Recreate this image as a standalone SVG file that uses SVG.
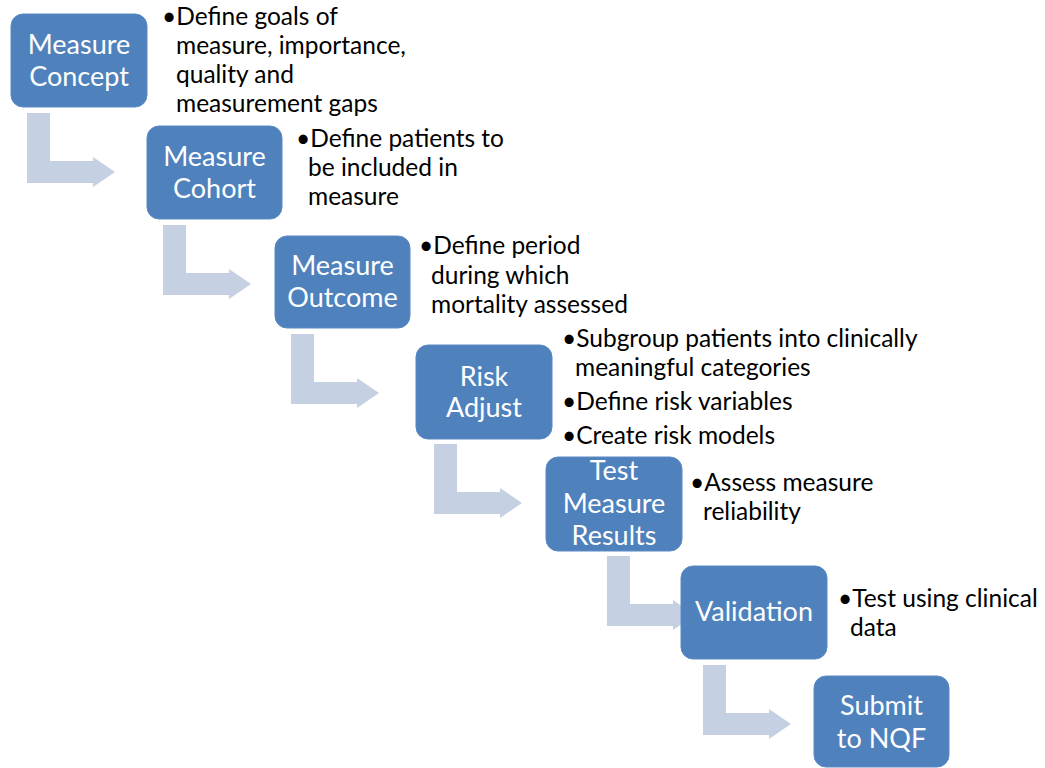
<svg xmlns="http://www.w3.org/2000/svg" width="1045" height="768" viewBox="0 0 1045 768">
<style>
.box{fill:#4F81BD;stroke:#5A8AC4;stroke-width:1}
.arr{fill:#C6D0E3}
.bt{font-family:Lato,"Liberation Sans",sans-serif;font-size:27px;fill:#FFFFFF;text-anchor:middle}
.tx{font-family:Lato,"Liberation Sans",sans-serif;font-size:24.5px;fill:#000000}
</style>
<defs>
<path id="bend" d="M0,0 H23 V48 H66 V44 L88,59 L66,74 V70 H0 Z"/>
</defs>
<g id="connectors">
<use href="#bend" class="arr" x="27" y="113"/>
<use href="#bend" class="arr" x="163" y="225"/>
<use href="#bend" class="arr" x="291" y="334"/>
<use href="#bend" class="arr" x="434" y="444"/>
<use href="#bend" class="arr" x="607" y="556"/>
<use href="#bend" class="arr" x="703" y="665"/>
</g>
<g id="n1">
<rect class="box" x="11" y="14" width="136" height="93" rx="12"/>
<text class="bt" x="79" y="54">Measure</text>
<text class="bt" x="79" y="86">Concept</text>
<text class="tx" x="162" y="25">•Define goals of</text>
<text class="tx" x="176" y="54">measure, importance,</text>
<text class="tx" x="176" y="83">quality and</text>
<text class="tx" x="176" y="112">measurement gaps</text>
</g>
<g id="n2">
<rect class="box" x="147" y="126" width="135" height="93" rx="12"/>
<text class="bt" x="214.5" y="166">Measure</text>
<text class="bt" x="214.5" y="198">Cohort</text>
<text class="tx" x="296" y="147">•Define patients to</text>
<text class="tx" x="308" y="176">be included in</text>
<text class="tx" x="308" y="205">measure</text>
</g>
<g id="n3">
<rect class="box" x="275" y="236" width="135" height="92" rx="12"/>
<text class="bt" x="342.5" y="275">Measure</text>
<text class="bt" x="342.5" y="307">Outcome</text>
<text class="tx" x="419" y="254">•Define period</text>
<text class="tx" x="431" y="284">during which</text>
<text class="tx" x="431" y="313">mortality assessed</text>
</g>
<g id="n4">
<rect class="box" x="416" y="345" width="136" height="94" rx="12"/>
<text class="bt" x="484" y="386">Risk</text>
<text class="bt" x="484" y="417">Adjust</text>
<text class="tx" x="562" y="347">•Subgroup patients into clinically</text>
<text class="tx" x="575" y="376">meaningful categories</text>
<text class="tx" x="562" y="410">•Define risk variables</text>
<text class="tx" x="562" y="444">•Create risk models</text>
</g>
<g id="n5">
<rect class="box" x="546" y="457" width="136" height="94" rx="12"/>
<text class="bt" x="614" y="480">Test</text>
<text class="bt" x="614" y="513">Measure</text>
<text class="bt" x="614" y="545">Results</text>
<text class="tx" x="690" y="491">•Assess measure</text>
<text class="tx" x="703" y="520">reliability</text>
</g>
<g id="n6">
<rect class="box" x="681" y="566" width="146" height="93" rx="12"/>
<text class="bt" x="754" y="621">Validation</text>
<text class="tx" x="838" y="607">•Test using clinical</text>
<text class="tx" x="850" y="636">data</text>
</g>
<g id="n7">
<rect class="box" x="814" y="676" width="135" height="91" rx="12"/>
<text class="bt" x="881.5" y="715">Submit</text>
<text class="bt" x="881.5" y="748">to NQF</text>
</g>
</svg>
